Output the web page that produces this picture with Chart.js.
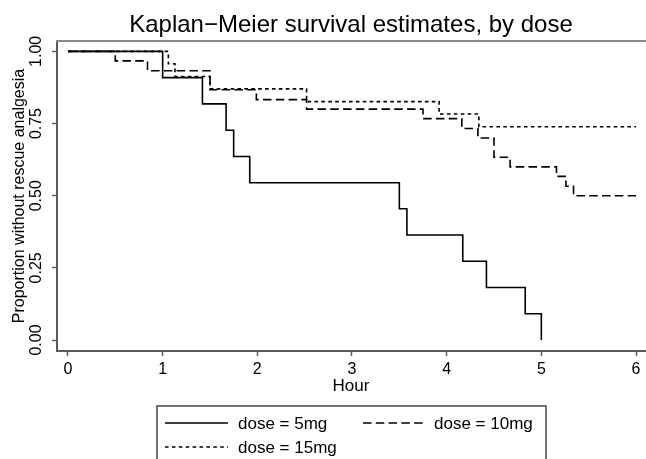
<!DOCTYPE html>
<html>
<head>
<meta charset="utf-8">
<title>Kaplan-Meier survival estimates, by dose</title>
<script src="https://cdn.jsdelivr.net/npm/chart.js@4.4.0/dist/chart.umd.min.js"></script>
<style>
  html, body { margin: 0; padding: 0; background: #fff; }
  #wrap { width: 646px; height: 459px; }
</style>
</head>
<body>
<div id="wrap"><canvas id="kmChart" width="646" height="459"></canvas></div>
<script>
// survival curves (hour of event, proportion left)
var hours5 = [0, 1.00, 1.42, 1.67, 1.75, 1.92, 3.50, 3.58, 4.17, 4.42, 4.83, 5.00];
var surv5 = [1, 0.909, 0.818, 0.727, 0.636, 0.545, 0.455, 0.364, 0.273, 0.182, 0.091, 0];

var hours10 = [0, 0.50, 0.84, 1.50, 1.99, 2.52, 3.75, 4.16, 4.33, 4.50, 4.67, 5.16, 5.26, 5.34, 6.00];
var surv10 = [1, 0.967, 0.933, 0.867, 0.833, 0.800, 0.767, 0.733, 0.700, 0.633, 0.600, 0.567, 0.533, 0.500, 0.500];

var hours15 = [0, 1.06, 1.13, 1.50, 2.52, 3.92, 4.34, 6.00];
var surv15 = [1, 0.957, 0.913, 0.870, 0.826, 0.783, 0.739, 0.739];

var seriesLabels = ["dose = 5mg", "dose = 10mg", "dose = 15mg"];
var xTicks = [0, 1, 2, 3, 4, 5, 6];
var yTicks = [0, 0.25, 0.5, 0.75, 1];

var titleText = "Kaplan\u2212Meier survival estimates, by dose";
var xTitle = "Hour";
var yTitle = "Proportion without rescue analgesia";

var fontFamily = "'Liberation Sans', Arial, Helvetica, sans-serif";
var axisColor = "#5c5c5c";

function toPoints(xs, ys) {
  return xs.map(function(x, i) {
    return { x: x, y: ys[i] };
  });
}

// title, top rule and the boxed legend are drawn on top of the chart
var decorPlugin = {
  id: "decor",
  afterDraw: function(chart) {
    var ctx = chart.ctx;
    var area = chart.chartArea;
    ctx.save();

    ctx.strokeStyle = "#8a8a8a";
    ctx.lineWidth = 2;
    ctx.beginPath();
    ctx.moveTo(area.left - 1, area.top);
    ctx.lineTo(chart.width, area.top);
    ctx.stroke();

    ctx.fillStyle = "#000";
    ctx.font = "24px " + fontFamily;
    ctx.textAlign = "center";
    ctx.textBaseline = "alphabetic";
    ctx.fillText(titleText, (area.left + area.right) / 2, 32);

    // legend box
    ctx.strokeStyle = "#444";
    ctx.lineWidth = 1.5;
    ctx.strokeRect(157, 406, 389, 60);

    var slots = [
      { x: 165, y: 423, tx: 238 },
      { x: 363, y: 423, tx: 434 },
      { x: 165, y: 447, tx: 238 }
    ];
    ctx.font = "17px " + fontFamily;
    ctx.textAlign = "left";
    ctx.textBaseline = "middle";
    chart.data.datasets.forEach(function(ds, i) {
      var s = slots[i];
      ctx.strokeStyle = ds.borderColor;
      ctx.lineWidth = ds.borderWidth;
      ctx.setLineDash(ds.borderDash || []);
      ctx.beginPath();
      ctx.moveTo(s.x, s.y);
      ctx.lineTo(s.x + 63, s.y);
      ctx.stroke();
      ctx.setLineDash([]);
      ctx.fillText(ds.label, s.tx, s.y + 1);
    });
    ctx.restore();
  }
};

var ctx = document.getElementById("kmChart").getContext("2d");

var kmChart = new Chart(ctx, {
  type: "line",
  data: {
    datasets: [{
      label: seriesLabels[0],
      data: toPoints(hours5, surv5),
      borderColor: "#000",
      borderWidth: 1.6,
      borderDash: [],
      stepped: "before",
      pointRadius: 0
    }, {
      label: seriesLabels[1],
      data: toPoints(hours10, surv10),
      borderColor: "#000",
      borderWidth: 1.6,
      borderDash: [8.5, 4.3],
      stepped: "before",
      pointRadius: 0
    }, {
      label: seriesLabels[2],
      data: toPoints(hours15, surv15),
      borderColor: "#000",
      borderWidth: 1.6,
      borderDash: [3.6, 3.3],
      stepped: "before",
      pointRadius: 0
    }]
  },
  options: {
    responsive: false,
    animation: false,
    layout: { padding: { top: 41, left: 0, right: 1, bottom: 62 } },
    plugins: {
      legend: { display: false },
      title: { display: false },
      tooltip: { enabled: false }
    },
    scales: {
      x: {
        type: "linear",
        min: -0.116,
        max: 6.095,
        afterBuildTicks: function(scale) {
          scale.ticks = xTicks.map(function(v) { return { value: v }; });
        },
        afterFit: function(scale) { scale.height = 46; },
        grid: { drawOnChartArea: false, drawTicks: true, tickLength: 5, tickColor: axisColor, tickWidth: 1.5 },
        border: { display: true, color: axisColor, width: 2 },
        ticks: {
          autoSkip: false,
          maxRotation: 0,
          padding: 4,
          color: "#000",
          font: { family: fontFamily, size: 16 },
          callback: function(v) { return v; }
        },
        title: {
          display: true,
          text: xTitle,
          color: "#000",
          font: { family: fontFamily, size: 17 },
          padding: { top: 0, bottom: 0 }
        }
      },
      y: {
        type: "linear",
        min: -0.038,
        max: 1.036,
        afterBuildTicks: function(scale) {
          scale.ticks = yTicks.map(function(v) { return { value: v }; });
        },
        afterFit: function(scale) { scale.width = 57; },
        grid: { drawOnChartArea: false, drawTicks: true, tickLength: 5, tickColor: axisColor, tickWidth: 1.5 },
        border: { display: true, color: axisColor, width: 2 },
        ticks: {
          autoSkip: false,
          minRotation: 90,
          maxRotation: 90,
          crossAlign: "center",
          padding: 0,
          color: "#000",
          font: { family: fontFamily, size: 16 },
          callback: function(v) { return v.toFixed(2); }
        },
        title: {
          display: true,
          text: yTitle,
          color: "#000",
          font: { family: fontFamily, size: 16 },
          padding: { top: 10, bottom: 0 }
        }
      }
    }
  },
  plugins: [decorPlugin]
});
</script>
</body>
</html>
